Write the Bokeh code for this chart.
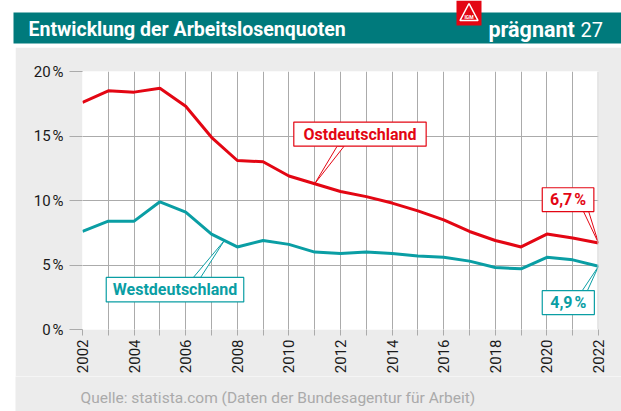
import math
from bokeh.plotting import figure
from bokeh.layouts import column, row
from bokeh.models import Range1d, FixedTicker, Span, Spacer
from bokeh.embed import file_html
from bokeh.resources import INLINE
from bokeh.core.properties import value

# ---------------- data ----------------
years = list(range(2002, 2023))
ost = [17.6, 18.5, 18.4, 18.7, 17.3, 14.9, 13.1, 13.0, 11.9, 11.3, 10.7,
       10.3, 9.8, 9.2, 8.5, 7.6, 6.9, 6.4, 7.4, 7.1, 6.7]
west = [7.6, 8.4, 8.4, 9.9, 9.1, 7.4, 6.4, 6.9, 6.6, 6.0, 5.9,
        6.0, 5.9, 5.7, 5.6, 5.3, 4.8, 4.7, 5.6, 5.4, 4.9]
y_ticks = [0, 5, 10, 15, 20]
y_tick_labels = ["0\u202f%", "5\u202f%", "10\u202f%", "15\u202f%", "20\u202f%"]
x_label_years = [y for y in years if y % 2 == 0]
x_minor_years = [y for y in years if y % 2 == 1]
title_text = "Entwicklung der Arbeitslosenquoten"
brand_text = "prägnant"
issue_text = "27"
source_text = "Quelle: statista.com (Daten der Bundesagentur für Arbeit)"
ost_name = "Ostdeutschland"
west_name = "Westdeutschland"

RED = "#e30613"
TEAL = "#0a9ea4"
HEAD = "#007a7c"
GRID = "#ababab"
BG = "#ececec"
FONT = "Roboto"


def bare(width, height, xr, yr, bg):
    fig = figure(width=width, height=height, output_backend="svg", toolbar_location=None,
                 x_range=xr, y_range=yr, x_axis_type=None, y_axis_type=None,
                 min_border=0, title=None)
    fig.border_fill_color = bg
    fig.background_fill_color = bg
    fig.outline_line_color = None
    fig.grid.visible = False
    return fig


# ---------------- header ----------------
h = bare(621, 47, Range1d(0, 621), Range1d(47, 0), "white")
h.quad(left=[13], right=[621], top=[12], bottom=[43], fill_color=HEAD, line_color=None)
h.quad(left=[456], right=[481], top=[0], bottom=[25], fill_color=RED, line_color=None)
h.patch([468.5, 459.5, 477.5], [3, 20, 20], fill_color=RED, line_color="white", line_width=1.6)
h.text(x=[468.5], y=[16], text=["IGM"], text_color="white", text_font=value(FONT),
       text_font_style="bold", text_font_size="5px", text_align="center",
       text_baseline="middle")
h.text(x=[28], y=[28.5], text=[title_text], text_color="white", text_font=value(FONT),
       text_font_style="bold", text_font_size="19.5px", text_baseline="middle")
h.text(x=[488], y=[28.5], text=[brand_text], text_color="white", text_font=value(FONT),
       text_font_style="bold", text_font_size="21.5px", text_baseline="middle")
h.text(x=[580], y=[28.5], text=[issue_text], text_color="white", text_font=value(FONT),
       text_font_size="20px", text_baseline="middle")

# ---------------- main chart ----------------
p = figure(width=606, height=329, output_backend="svg", toolbar_location=None,
           x_range=Range1d(years[0], years[-1]), y_range=Range1d(0, 20),
           min_border_left=67, min_border_right=23, min_border_top=24,
           min_border_bottom=46, title=None)
p.border_fill_color = BG
p.background_fill_color = "white"
p.outline_line_color = None

p.yaxis.ticker = FixedTicker(ticks=y_ticks)
p.yaxis.major_label_overrides = {t: l for t, l in zip(y_ticks, y_tick_labels)}
p.yaxis.axis_line_color = None
p.yaxis.major_tick_out = 13
p.yaxis.major_tick_in = 0
p.yaxis.major_tick_line_color = GRID
p.yaxis.minor_tick_line_color = None
p.yaxis.major_label_standoff = 6
p.yaxis.major_label_text_font = FONT
p.yaxis.major_label_text_font_size = "15px"
p.yaxis.major_label_text_color = "#1a1a1a"

p.xaxis.ticker = FixedTicker(ticks=x_label_years, minor_ticks=x_minor_years)
p.xaxis.axis_line_color = None
p.xaxis.major_tick_out = 6
p.xaxis.major_tick_in = 0
p.xaxis.minor_tick_out = 6
p.xaxis.minor_tick_in = 0
p.xaxis.major_tick_line_color = GRID
p.xaxis.minor_tick_line_color = GRID
p.xaxis.major_label_orientation = math.pi / 2
p.xaxis.major_label_standoff = 4
p.xaxis.major_label_text_font = FONT
p.xaxis.major_label_text_font_size = "15px"
p.xaxis.major_label_text_color = "#1a1a1a"

p.xgrid.ticker = FixedTicker(ticks=years)
p.xgrid.grid_line_color = GRID
p.ygrid.ticker = FixedTicker(ticks=y_ticks)
p.ygrid.grid_line_color = GRID

p.add_layout(Span(location=years[-1], dimension="height", line_color="#cfcfcf", line_width=2))

p.line(years, ost, line_color=RED, line_width=3)
p.line(years, west, line_color=TEAL, line_width=3)


def callout(x0, x1, y0, y1, bx0, bx1, by, tx, ty, color, text):
    p.patch([bx0, bx1, tx], [by, by, ty], fill_color="white", line_color=color, line_width=1)
    p.quad(left=[x0], right=[x1], bottom=[y0], top=[y1], fill_color="white",
           line_color=color, line_width=1.2)
    p.text(x=[(x0 + x1) / 2], y=[(y0 + y1) / 2], text=[text], text_color=color,
           text_font=value(FONT), text_font_style="bold", text_font_size="16px",
           text_align="center", text_baseline="middle")


callout(2010.19, 2015.32, 14.21, 16.08, 2011.87, 2012.14, 14.21,
        years[9], ost[9], RED, ost_name)
callout(2019.82, 2021.82, 9.14, 10.99, 2021.42, 2021.62, 9.14,
        years[-1], ost[-1], RED, f"{ost[-1]:.1f}".replace(".", ",") + "\u202f%")
callout(2002.92, 2008.25, 2.14, 4.04, 2006.30, 2006.58, 4.04,
        (years[5] + years[6]) / 2, (west[5] + west[6]) / 2, TEAL, west_name)
callout(2019.82, 2021.84, 1.16, 3.01, 2021.37, 2021.57, 3.01,
        years[-1], west[-1], TEAL, f"{west[-1]:.1f}".replace(".", ",") + "\u202f%")

# ---------------- footer ----------------
f = bare(606, 35, Range1d(0, 606), Range1d(35, 0), BG)
f.text(x=[65], y=[21], text=[source_text], text_color="#aaaaaa", text_font=value(FONT),
       text_font_size="15.5px", text_baseline="middle")

layout = column(h,
                row(Spacer(width=15, height=329), p, spacing=0),
                row(Spacer(width=15, height=35), f, spacing=0),
                spacing=0)

open("out.html", "w").write(file_html(layout, INLINE))
